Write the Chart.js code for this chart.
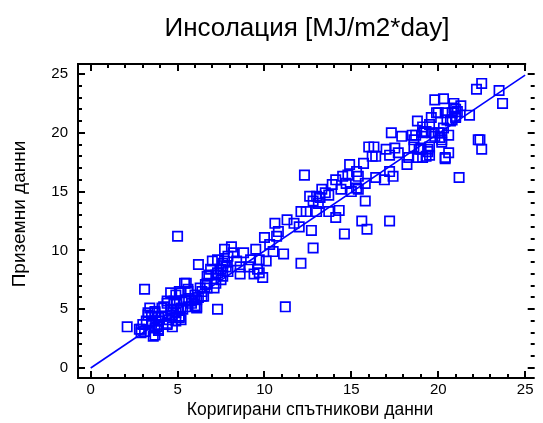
<!DOCTYPE html>
<html>
<head>
<meta charset="utf-8">
<script src="https://cdn.jsdelivr.net/npm/chart.js@4.4.1/dist/chart.umd.min.js"></script>
<style>
    html, body { margin: 0; padding: 0; background: #fff; }
    #wrap { width: 543px; height: 423px; }
</style>
</head>
<body>
<div id="wrap"><canvas id="insolation-chart"></canvas></div>
<script>
// corrected satellite values (x) and ground measurements (y), MJ/m2*day
const satX = [
    2.1,2.8,2.9,3.7,3.4,3.9,3.1,5.0,6.2,7.0,
    7.3,5.5,6.7,6.9,7.2,7.6,7.7,7.1,6.7,6.5,
    6.1,5.6,5.1,4.6,4.4,4.2,3.7,3.5,3.3,3.9,
    4.5,4.9,5.2,5.8,6.2,4.8,4.1,3.8,4.4,5.1,
    5.4,6.0,5.0,3.5,6.6,6.4,7.5,7.8,7.3,7.6,
    5.4,6.3,6.7,7.2,6.8,7.3,7.6,4.9,5.2,5.6,
    6.0,6.4,4.4,4.8,5.1,5.5,5.8,6.1,4.1,4.6,
    5.3,5.6,6.1,3.3,3.7,3.9,4.3,4.7,5.1,5.2,
    3.2,3.5,3.9,4.4,4.7,4.9,3.0,2.9,3.1,3.7,
    3.9,3.6,7.5,7.9,
    12.3,10.6,11.3,11.7,12.0,12.7,10.8,10.7,10.0,10.3,
    11.1,10.5,9.5,10.1,9.7,9.2,8.8,8.1,8.2,7.9,
    7.7,8.4,8.6,9.1,9.6,8.6,9.9,9.7,12.1,12.8,
    12.1,12.6,13.0,13.3,12.8,13.1,13.5,13.7,13.0,12.4,
    13.9,11.2,9.4,
    18.8,17.3,17.9,18.5,19.1,16.0,16.3,16.2,16.4,17.0,
    17.5,17.7,17.2,18.3,18.8,18.6,19.0,18.2,15.7,14.9,
    15.3,15.4,14.8,14.5,14.1,14.7,14.4,15.0,15.3,15.8,
    16.4,16.9,17.2,17.4,13.2,13.7,15.8,14.3,14.1,15.6,
    17.2,15.9,14.6,15.4,
    22.5,22.2,23.5,23.7,19.8,20.3,20.9,21.3,20.9,21.1,
    21.0,21.8,19.9,20.4,19.6,20.5,20.8,19.5,20.3,19.3,
    19.6,20.0,20.6,18.7,18.6,20.2,19.8,22.3,22.4,22.5,
    18.9,19.5,19.4,19.3,20.4,20.6,21.2,20.2,19.1,21.0,
    20.8,20.0,20.7,21.0,19.2,20.2,20.1,19.0,19.4,19.5,
    19.1,20.4
]
const groundY = [
    3.5,3.3,3.0,2.8,5.1,3.3,6.7,11.2,8.8,9.1,
    5.0,7.2,7.8,8.4,7.9,8.9,10.1,6.8,6.8,6.1,
    5.2,6.7,6.5,6.4,5.5,5.2,4.8,4.4,4.7,4.0,
    4.1,4.7,5.1,5.7,6.0,5.7,4.4,3.5,3.7,4.3,
    5.7,5.3,5.0,4.0,7.1,6.5,7.5,8.6,9.2,8.7,
    7.2,6.8,7.2,7.2,7.9,8.1,7.8,6.2,6.4,6.5,
    6.2,6.1,5.7,5.5,5.7,5.8,5.5,5.8,5.1,5.0,
    5.0,5.2,5.1,4.5,4.7,4.3,4.4,4.5,4.4,4.1,
    4.0,3.8,3.7,3.8,3.5,4.0,3.7,3.3,3.1,3.4,
    3.2,2.7,8.4,8.2,
    16.4,12.3,12.6,12.3,12.0,11.7,11.6,11.2,11.1,10.5,
    9.7,9.9,10.1,9.1,9.2,9.2,9.8,10.3,9.8,9.5,
    9.1,9.1,8.6,8.6,8.4,8.0,7.7,8.1,8.9,10.2,
    13.3,14.6,14.6,15.2,14.2,14.0,14.9,13.3,13.3,13.3,
    15.6,5.2,8.0,
    21.0,20.0,19.7,19.8,20.0,18.8,18.8,18.0,18.0,18.6,
    18.7,18.3,18.1,17.9,17.9,18.8,18.6,17.3,17.4,17.3,
    16.7,16.3,16.4,16.3,16.0,15.7,15.2,15.0,15.3,15.7,
    16.2,16.0,16.7,16.3,14.5,14.7,14.2,13.4,12.8,12.5,
    12.5,11.8,11.4,15.2,
    24.2,23.7,23.6,22.5,22.8,22.9,22.5,22.3,22.1,21.8,
    21.4,21.5,21.7,21.7,21.3,21.1,21.1,20.7,20.4,20.1,
    20.0,20.0,19.8,19.8,19.4,19.4,19.7,19.4,19.4,18.6,
    18.6,18.8,18.4,18.0,17.9,18.3,16.2,19.2,20.5,22.0,
    21.7,21.7,21.0,21.3,20.1,20.0,19.6,18.7,18.6,18.1,
    17.9,17.8
]

// fitted line end points
const fitX = [0, 25]
const fitY = [0, 24.9]

const tickValues = [0, 5, 10, 15, 20, 25]

const titleText = "Инсолация [MJ/m2*day]"
const xTitle = "Коригирани спътникови данни"
const yTitle = "Приземни данни"

const FONT = "'Liberation Sans', Arial, sans-serif"
const BLUE = "#0000ff"

const points = satX.map((x, i) => ({ x: x, y: groundY[i] }))
const fitLine = fitX.map((x, i) => ({ x: x, y: fitY[i] }))

// frame, inward ticks (major + minor) and the text around the plot
const frameTicks = {
    id: "frameTicks",
    afterDraw(chart) {
        const ctx = chart.ctx
        const a = chart.chartArea
        const xs = chart.scales.x
        const ys = chart.scales.y
        ctx.save()
        ctx.strokeStyle = "#000"
        ctx.lineWidth = 2
        ctx.beginPath()
        ctx.moveTo(xs.getPixelForValue(25) + 1, a.top)
        ctx.lineTo(a.left, a.top)
        ctx.lineTo(a.left, a.bottom)
        ctx.lineTo(a.right, a.bottom)
        ctx.stroke()

        ctx.beginPath()
        for (let v = 0; v <= 25; v++) {
            const len = v % 5 === 0 ? 7 : 4
            const px = Math.round(xs.getPixelForValue(v))
            const py = Math.round(ys.getPixelForValue(v))
            ctx.moveTo(px, a.bottom); ctx.lineTo(px, a.bottom - len)
            ctx.moveTo(px, a.top); ctx.lineTo(px, a.top + len)
            ctx.moveTo(a.left, py); ctx.lineTo(a.left + len, py)
            ctx.moveTo(a.right, py); ctx.lineTo(a.right - len, py)
        }
        ctx.stroke()

        ctx.fillStyle = "#000"
        ctx.textAlign = "center"
        ctx.textBaseline = "middle"
        ctx.font = "26px " + FONT
        ctx.fillText(titleText, 307, 29)
        ctx.font = "17.5px " + FONT
        ctx.fillText(xTitle, 310, 410)
        ctx.translate(20, 214)
        ctx.rotate(-Math.PI / 2)
        ctx.font = "19px " + FONT
        ctx.fillText(yTitle, 0, 0)
        ctx.restore()
    }
}

const ctx = document.getElementById("insolation-chart").getContext("2d")

const insolationChart = new Chart(ctx, {
    type: "scatter",
    data: {
        datasets: [{
            label: "data",
            data: points,
            pointStyle: "rect",
            pointRadius: 6.6,
            pointBorderWidth: 1.7,
            borderColor: BLUE,
            backgroundColor: "rgba(0,0,0,0)",
        }, {
            type: "line",
            label: "fit",
            data: fitLine,
            borderColor: BLUE,
            borderWidth: 1.6,
            pointRadius: 0,
            fill: false,
        }],
    },
    options: {
        responsive: true,
        maintainAspectRatio: false,
        animation: false,
        layout: { padding: { top: 64, right: 0, left: 0, bottom: 0 } },
        plugins: {
            legend: { display: false },
            tooltip: { enabled: false },
        },
        scales: {
            x: {
                type: "linear",
                min: -0.73,
                max: 25.55,
                grid: { display: false, drawTicks: false },
                border: { display: false },
                afterBuildTicks: s => { s.ticks = tickValues.map(v => ({ value: v })) },
                afterFit: s => { s.height = 45 },
                ticks: { color: "#000", padding: 3, font: { family: FONT, size: 15 } },
            },
            y: {
                type: "linear",
                min: -0.85,
                max: 25.85,
                grid: { display: false, drawTicks: false },
                border: { display: false },
                afterBuildTicks: s => { s.ticks = tickValues.map(v => ({ value: v })) },
                afterFit: s => { s.width = 78 },
                ticks: { color: "#000", padding: 10, font: { family: FONT, size: 15 } },
            },
        },
    },
    plugins: [frameTicks],
})
</script>
</body>
</html>
